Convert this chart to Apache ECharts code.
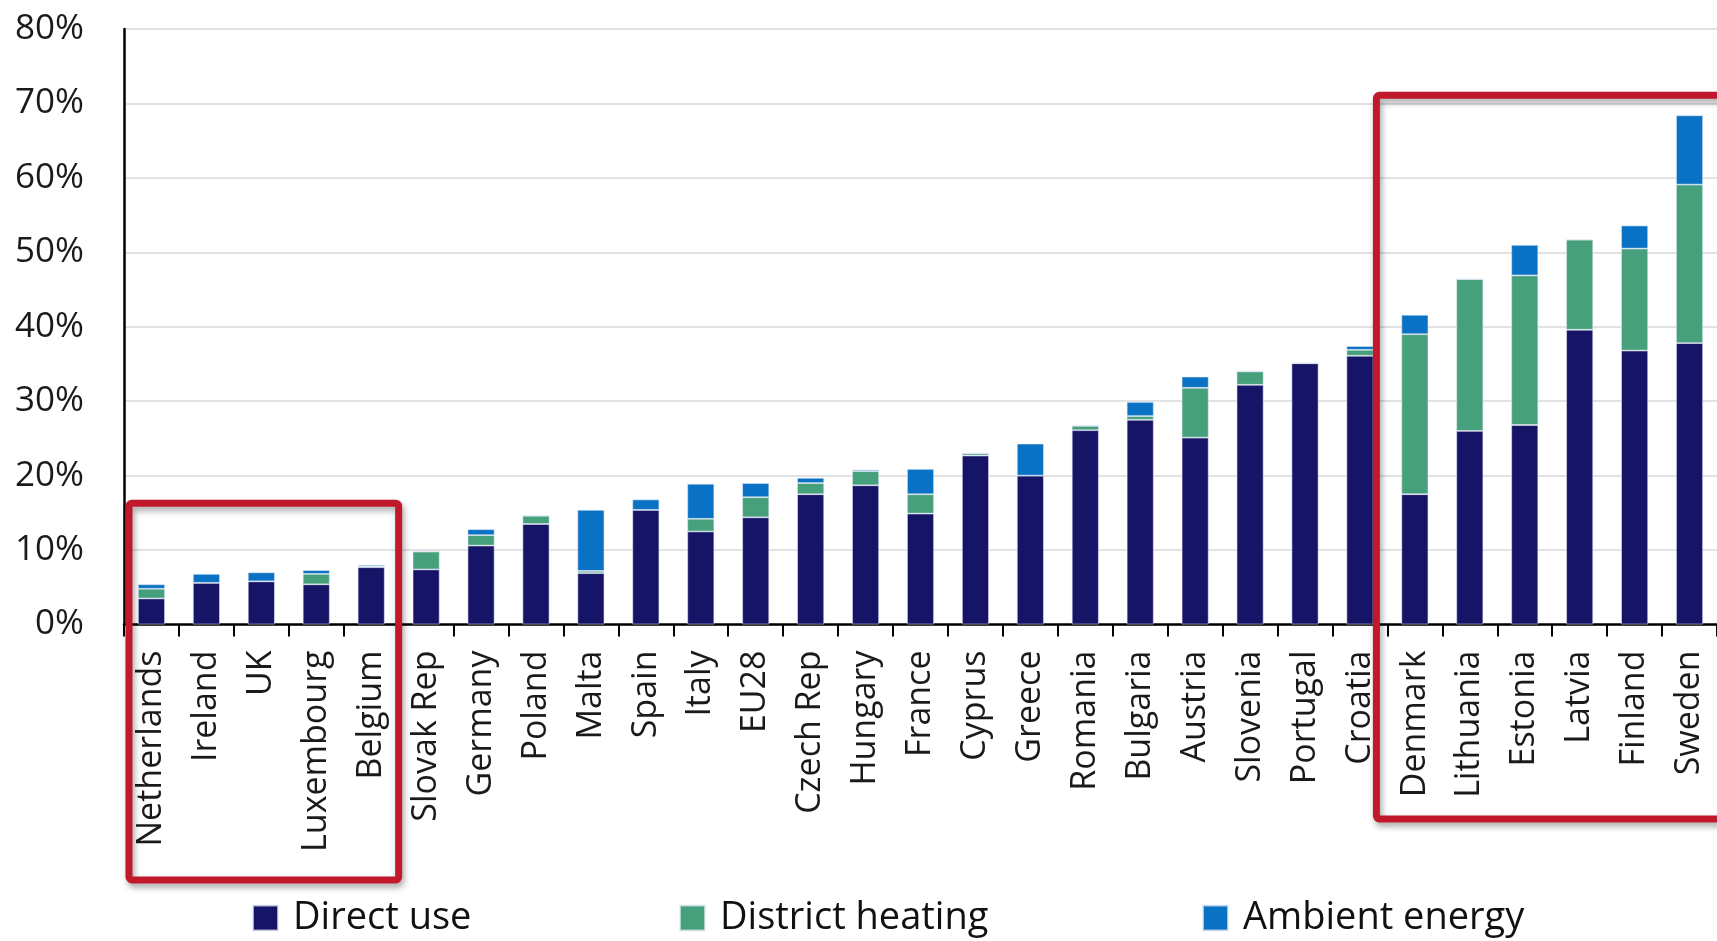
<!DOCTYPE html>
<html>
<head>
<meta charset="utf-8">
<title>Renewable heat share</title>
<script src="https://cdn.jsdelivr.net/npm/echarts@6/dist/echarts.min.js"></script>
<style>
  html, body { margin: 0; padding: 0; background: #fff; }
  #main { width: 1717px; height: 941px; }
</style>
</head>
<body>
<div id="main"></div>
<script>
// values in percent
var categories = ['Netherlands', 'Ireland', 'UK', 'Luxembourg', 'Belgium', 'Slovak Rep', 'Germany', 'Poland', 'Malta',
  'Spain', 'Italy', 'EU28', 'Czech Rep', 'Hungary', 'France', 'Cyprus', 'Greece', 'Romania', 'Bulgaria', 'Austria',
  'Slovenia', 'Portugal', 'Croatia', 'Denmark', 'Lithuania', 'Estonia', 'Latvia', 'Finland', 'Sweden'];
var directUse = [3.5, 5.6, 5.8, 5.4, 7.7, 7.4, 10.6, 13.5, 6.9, 15.4, 12.5, 14.4, 17.5, 18.7, 14.9, 22.7, 20.0,
  26.1, 27.5, 25.1, 32.2, 35.1, 36.1, 17.5, 26.0, 26.8, 39.6, 36.8, 37.8];
var districtHeating = [1.3, 0, 0, 1.4, 0.1, 2.4, 1.4, 1.1, 0.3, 0, 1.7, 2.7, 1.5, 1.9, 2.6, 0.3, 0, 0.6, 0.5,
  6.7, 1.8, 0, 0.8, 21.5, 20.4, 20.1, 12.1, 13.7, 21.3];
var ambientEnergy = [0.6, 1.2, 1.2, 0.5, 0.2, 0, 0.8, 0.1, 8.2, 1.4, 4.7, 1.9, 0.7, 0.2, 3.4, 0, 4.3, 0, 1.9,
  1.5, 0, 0, 0.5, 2.6, 0, 4.1, 0, 3.1, 9.3];
var yTicks = [0, 10, 20, 30, 40, 50, 60, 70, 80];

var FONT = '"Open Sans", "DejaVu Sans", sans-serif';
var colors = { direct: '#161466', district: '#47a07c', ambient: '#0a72c4' };

var myChart = echarts.init(document.getElementById('main'));

function barSeries(name, data, color) {
  return {
    name: name,
    type: 'bar',
    stack: 'total',
    barWidth: 27,
    data: data,
    itemStyle: { color: color, borderColor: 'rgba(225,232,245,0.7)', borderWidth: 0.8 }
  };
}

function legendItem(name, left) {
  return {
    data: [name],
    left: left,
    top: 899,
    padding: 0,
    itemWidth: 25,
    itemHeight: 25,
    icon: 'rect',
    selectedMode: false,
    textStyle: { fontFamily: FONT, fontSize: 38, color: '#111', padding: [0, 0, 0, 10] }
  };
}

var option = {
  animation: false,
  backgroundColor: '#fff',
  grid: { left: 124, top: 29, width: 1598, height: 595.5, containLabel: false },
  legend: [
    legendItem('Direct use', 252),
    legendItem('District heating', 679),
    legendItem('Ambient energy', 1202)
  ],
  xAxis: {
    type: 'category',
    data: categories,
    axisLine: { lineStyle: { color: '#000', width: 2.5 } },
    axisTick: { show: true, length: 12, lineStyle: { color: '#000', width: 2 } },
    axisLabel: {
      interval: 0,
      rotate: 90,
      margin: 26,
      fontFamily: FONT,
      fontSize: 34,
      color: '#1a1a1a'
    }
  },
  yAxis: {
    type: 'value',
    min: yTicks[0],
    max: yTicks[yTicks.length - 1],
    interval: 10,
    axisLine: { show: true, lineStyle: { color: '#000', width: 2.5 } },
    axisTick: { show: false },
    splitLine: { lineStyle: { color: '#e2e2e2', width: 2 } },
    axisLabel: {
      margin: 40,
      formatter: '{value}%',
      fontFamily: FONT,
      fontSize: 35,
      color: '#1a1a1a'
    }
  },
  series: [
    barSeries('Direct use', directUse, colors.direct),
    barSeries('District heating', districtHeating, colors.district),
    barSeries('Ambient energy', ambientEnergy, colors.ambient)
  ]
};

myChart.setOption(option);

// red highlight boxes around the lowest and highest groups
var band = myChart.convertToPixel({ xAxisIndex: 0 }, categories[1]) - myChart.convertToPixel({ xAxisIndex: 0 }, categories[0]);
function leftEdge(name) { return myChart.convertToPixel({ xAxisIndex: 0 }, name) - band / 2; }
function rightEdge(name) { return myChart.convertToPixel({ xAxisIndex: 0 }, name) + band / 2; }
function yPix(v) { return myChart.convertToPixel({ yAxisIndex: 0 }, v); }

var boxStyle = {
  fill: 'none',
  stroke: '#c2182c',
  lineWidth: 7,
  shadowBlur: 6,
  shadowColor: 'rgba(0,0,0,0.35)',
  shadowOffsetX: 2,
  shadowOffsetY: 4
};
var lx = leftEdge('Netherlands') + 5, rx = rightEdge('Belgium');
var ly = yPix(16.3);
var rlx = leftEdge('Denmark') - 11;
var ry = yPix(71.1);

myChart.setOption({
  graphic: [
    { type: 'rect', z: 100, shape: { x: lx, y: ly, width: rx - lx, height: 880 - ly, r: 3 }, style: boxStyle },
    { type: 'rect', z: 100, shape: { x: rlx, y: ry, width: 1740 - rlx, height: 819 - ry, r: 3 }, style: boxStyle }
  ]
});
</script>
</body>
</html>
